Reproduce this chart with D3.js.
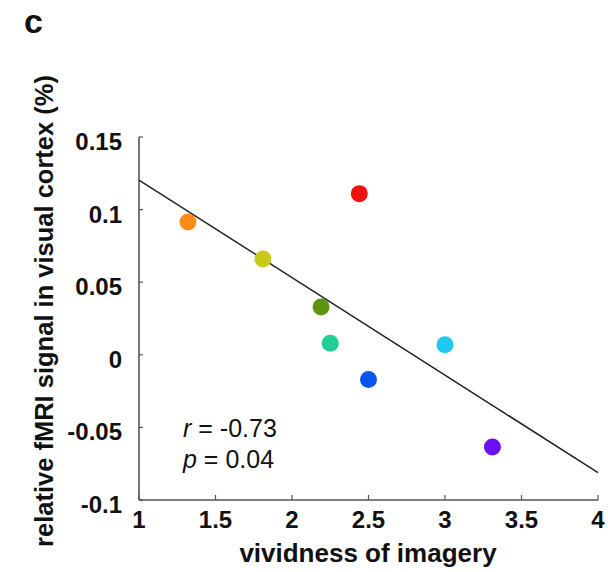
<!DOCTYPE html>
<html>
<head>
<meta charset="utf-8">
<style>
  body { margin: 0; background: #fff; }
  text { font-family: "Liberation Sans", Arial, sans-serif; fill: #111; }
</style>
</head>
<body>
<svg width="608" height="572"></svg>
<script src="https://d3js.org/d3.v7.min.js"></script>
<script>
  // vividness score per subject, and relative fMRI signal (%)
  var vividness = [1.32, 1.81, 2.44, 2.19, 2.25, 3.0, 2.5, 3.31];
  var signal = [0.0915, 0.066, 0.111, 0.033, 0.008, 0.007, -0.017, -0.0635];
  var colors = ['#ff8c1a', '#c9c918', '#f01010', '#5f9412', '#1fcf96', '#1ec8f0', '#0a55f0', '#6a10f5'];

  var xTicks = [1, 1.5, 2, 2.5, 3, 3.5, 4];
  var yTicks = [0.15, 0.1, 0.05, 0, -0.05, -0.1];
  var yTickLabels = ['0.15', '0.1', '0.05', '0', '-0.05', '-0.1'];

  var svg = d3.select('svg');
  var x = d3.scaleLinear().domain([1, 4]).range([139, 598]);
  var y = d3.scaleLinear().domain([-0.1, 0.15]).range([500, 137]);

  // least squares fit
  var mx = d3.mean(vividness), my = d3.mean(signal);
  var sxy = d3.sum(vividness, function(v, i) { return (v - mx) * (signal[i] - my); });
  var sxx = d3.sum(vividness, function(v) { return (v - mx) * (v - mx); });
  var slope = sxy / sxx;
  var intercept = my - slope * mx;

  // axes
  var axisColor = '#555';
  svg.append('line')
    .attr('x1', x(1)).attr('x2', x(1))
    .attr('y1', y(0.15)).attr('y2', y(-0.1))
    .attr('stroke', axisColor).attr('stroke-width', 1.6);
  svg.append('line')
    .attr('x1', x(1)).attr('x2', x(4))
    .attr('y1', y(-0.1)).attr('y2', y(-0.1))
    .attr('stroke', axisColor).attr('stroke-width', 1.6);

  svg.selectAll('.ytick')
    .data(yTicks)
    .enter().append('line')
      .attr('x1', x(1)).attr('x2', x(1) + 4)
      .attr('y1', function(d) { return y(d); })
      .attr('y2', function(d) { return y(d); })
      .attr('stroke', axisColor).attr('stroke-width', 1.2);
  svg.selectAll('.xtick')
    .data(xTicks)
    .enter().append('line')
      .attr('x1', function(d) { return x(d); })
      .attr('x2', function(d) { return x(d); })
      .attr('y1', y(-0.1)).attr('y2', y(-0.1) - 5)
      .attr('stroke', axisColor).attr('stroke-width', 1.2);

  svg.selectAll('.ylab')
    .data(yTicks)
    .enter().append('text')
      .attr('x', 122)
      .attr('y', function(d) { return y(d) + 13; })
      .attr('text-anchor', 'end')
      .style('font-size', '24px')
      .style('font-weight', 'bold')
      .text(function(d, i) { return yTickLabels[i]; });
  svg.selectAll('.xlab')
    .data(xTicks)
    .enter().append('text')
      .attr('x', function(d) { return x(d); })
      .attr('y', 528)
      .attr('text-anchor', 'middle')
      .style('font-size', '24px')
      .style('font-weight', 'bold')
      .text(function(d) { return d; });

  // regression line
  svg.append('line')
    .attr('x1', x(1)).attr('y1', y(intercept + slope * 1))
    .attr('x2', x(4)).attr('y2', y(intercept + slope * 4))
    .attr('stroke', '#222').attr('stroke-width', 1.5);

  // points
  svg.selectAll('.pt')
    .data(vividness)
    .enter().append('circle')
      .attr('cx', function(d) { return x(d); })
      .attr('cy', function(d, i) { return y(signal[i]); })
      .attr('r', 8.5)
      .attr('fill', function(d, i) { return colors[i]; });

  // stats
  var stats = svg.append('text').attr('x', 183).attr('y', 437).style('font-size', '25px');
  stats.append('tspan').style('font-style', 'italic').text('r');
  stats.append('tspan').text(' = -0.73');
  var stats2 = svg.append('text').attr('x', 183).attr('y', 468).style('font-size', '25px');
  stats2.append('tspan').style('font-style', 'italic').text('p');
  stats2.append('tspan').text(' = 0.04');

  // labels
  svg.append('text')
    .attr('x', 368).attr('y', 562)
    .attr('text-anchor', 'middle')
    .style('font-size', '26px').style('font-weight', 'bold')
    .text('vividness of imagery');
  svg.append('text')
    .attr('transform', 'translate(53, 311) rotate(-90)')
    .attr('text-anchor', 'middle')
    .style('font-size', '25.5px').style('font-weight', 'bold')
    .text('relative fMRI signal in visual cortex (%)');
  svg.append('text')
    .attr('x', 24).attr('y', 33)
    .style('font-size', '34px').style('font-weight', 'bold')
    .text('c');
</script>
</body>
</html>
